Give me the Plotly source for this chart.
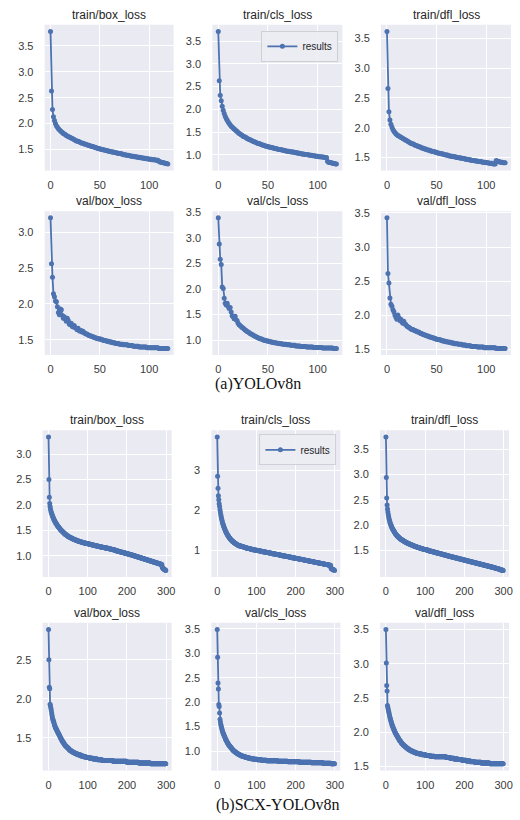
import plotly.graph_objects as go

# ---------------- data ----------------
epochs_a = list(range(120))
epochs_b = list(range(300))

train_box_a = [
    3.78, 2.63, 2.27, 2.13, 2.06, 2.00, 1.96, 1.93, 1.90, 1.88,
    1.86, 1.84, 1.83, 1.81, 1.80, 1.79, 1.77, 1.76, 1.75, 1.74,
    1.73, 1.72, 1.71, 1.70, 1.69, 1.68, 1.67, 1.66, 1.66, 1.65,
    1.64, 1.63, 1.62, 1.62, 1.61, 1.60, 1.60, 1.59, 1.58, 1.58,
    1.57, 1.56, 1.56, 1.55, 1.55, 1.54, 1.54, 1.53, 1.52, 1.52,
    1.51, 1.51, 1.50, 1.50, 1.49, 1.49, 1.48, 1.48, 1.47, 1.47,
    1.46, 1.46, 1.45, 1.45, 1.45, 1.44, 1.44, 1.43, 1.43, 1.42,
    1.42, 1.42, 1.41, 1.41, 1.40, 1.40, 1.40, 1.39, 1.39, 1.39,
    1.38, 1.38, 1.37, 1.37, 1.37, 1.36, 1.36, 1.36, 1.35, 1.35,
    1.35, 1.34, 1.34, 1.34, 1.33, 1.33, 1.33, 1.32, 1.32, 1.32,
    1.31, 1.31, 1.31, 1.30, 1.30, 1.30, 1.30, 1.29, 1.29, 1.29,
    1.27, 1.26, 1.26, 1.25, 1.25, 1.24, 1.24, 1.23, 1.23, 1.22,
]
train_cls_a = [
    3.71, 2.63, 2.31, 2.19, 2.07, 1.98, 1.91, 1.85, 1.80, 1.76,
    1.72, 1.69, 1.66, 1.63, 1.61, 1.59, 1.57, 1.55, 1.53, 1.51,
    1.49, 1.47, 1.46, 1.44, 1.43, 1.41, 1.40, 1.39, 1.38, 1.36,
    1.35, 1.34, 1.33, 1.32, 1.31, 1.30, 1.29, 1.28, 1.27, 1.26,
    1.25, 1.25, 1.24, 1.23, 1.22, 1.21, 1.21, 1.20, 1.19, 1.19,
    1.18, 1.17, 1.17, 1.16, 1.16, 1.15, 1.15, 1.14, 1.14, 1.13,
    1.13, 1.12, 1.12, 1.11, 1.11, 1.10, 1.10, 1.09, 1.09, 1.08,
    1.08, 1.08, 1.07, 1.07, 1.06, 1.06, 1.06, 1.05, 1.05, 1.04,
    1.04, 1.04, 1.03, 1.03, 1.02, 1.02, 1.02, 1.01, 1.01, 1.01,
    1.00, 1.00, 0.99, 0.99, 0.99, 0.98, 0.98, 0.98, 0.97, 0.97,
    0.97, 0.96, 0.96, 0.96, 0.95, 0.95, 0.95, 0.94, 0.94, 0.94,
    0.86, 0.84, 0.83, 0.83, 0.82, 0.82, 0.81, 0.81, 0.80, 0.80,
]
train_dfl_a = [
    3.62, 2.66, 2.27, 2.13, 2.06, 2.01, 1.97, 1.94, 1.92, 1.90,
    1.88, 1.87, 1.86, 1.85, 1.84, 1.83, 1.82, 1.81, 1.80, 1.79,
    1.78, 1.77, 1.76, 1.75, 1.74, 1.73, 1.73, 1.72, 1.71, 1.70,
    1.70, 1.69, 1.68, 1.68, 1.67, 1.66, 1.66, 1.65, 1.64, 1.64,
    1.63, 1.63, 1.62, 1.62, 1.61, 1.61, 1.60, 1.60, 1.59, 1.59,
    1.58, 1.58, 1.57, 1.57, 1.56, 1.56, 1.56, 1.55, 1.55, 1.54,
    1.54, 1.54, 1.53, 1.53, 1.52, 1.52, 1.52, 1.51, 1.51, 1.51,
    1.50, 1.50, 1.50, 1.49, 1.49, 1.49, 1.48, 1.48, 1.48, 1.47,
    1.47, 1.47, 1.46, 1.46, 1.46, 1.45, 1.45, 1.45, 1.45, 1.44,
    1.44, 1.44, 1.43, 1.43, 1.43, 1.43, 1.42, 1.42, 1.42, 1.42,
    1.41, 1.41, 1.41, 1.40, 1.40, 1.40, 1.40, 1.39, 1.39, 1.39,
    1.45, 1.44, 1.43, 1.43, 1.42, 1.42, 1.42, 1.41, 1.41, 1.41,
]
val_box_a = [
    3.20, 2.56, 2.37, 2.14, 2.10, 2.04, 2.03, 1.96, 1.88, 1.85,
    1.93, 1.92, 1.84, 1.80, 1.82, 1.79, 1.76, 1.80, 1.77, 1.72,
    1.71, 1.73, 1.69, 1.68, 1.70, 1.67, 1.66, 1.64, 1.66, 1.63,
    1.62, 1.63, 1.61, 1.62, 1.60, 1.59, 1.58, 1.58, 1.57, 1.56,
    1.56, 1.55, 1.55, 1.54, 1.54, 1.53, 1.53, 1.52, 1.52, 1.51,
    1.51, 1.51, 1.50, 1.50, 1.49, 1.49, 1.49, 1.48, 1.48, 1.48,
    1.47, 1.47, 1.47, 1.46, 1.46, 1.46, 1.45, 1.45, 1.45, 1.45,
    1.44, 1.44, 1.44, 1.44, 1.43, 1.43, 1.43, 1.43, 1.43, 1.42,
    1.42, 1.42, 1.42, 1.42, 1.41, 1.41, 1.41, 1.41, 1.41, 1.41,
    1.40, 1.40, 1.40, 1.40, 1.40, 1.40, 1.40, 1.40, 1.39, 1.39,
    1.39, 1.39, 1.39, 1.39, 1.39, 1.39, 1.39, 1.39, 1.39, 1.39,
    1.38, 1.38, 1.38, 1.38, 1.38, 1.38, 1.38, 1.38, 1.38, 1.38,
]
val_cls_a = [
    3.39, 2.88, 2.58, 2.48, 2.04, 2.01, 1.82, 1.72, 1.69, 1.72,
    1.66, 1.62, 1.64, 1.55, 1.48, 1.46, 1.42, 1.47, 1.40, 1.38,
    1.33, 1.30, 1.29, 1.27, 1.25, 1.24, 1.22, 1.20, 1.19, 1.17,
    1.16, 1.15, 1.13, 1.12, 1.11, 1.10, 1.09, 1.08, 1.07, 1.06,
    1.05, 1.04, 1.03, 1.03, 1.02, 1.01, 1.00, 1.00, 0.99, 0.99,
    0.98, 0.98, 0.97, 0.97, 0.96, 0.96, 0.95, 0.95, 0.95, 0.94,
    0.94, 0.94, 0.93, 0.93, 0.93, 0.92, 0.92, 0.92, 0.92, 0.91,
    0.91, 0.91, 0.91, 0.90, 0.90, 0.90, 0.90, 0.90, 0.89, 0.89,
    0.89, 0.89, 0.89, 0.88, 0.88, 0.88, 0.88, 0.88, 0.88, 0.87,
    0.87, 0.87, 0.87, 0.87, 0.87, 0.87, 0.86, 0.86, 0.86, 0.86,
    0.86, 0.86, 0.86, 0.86, 0.86, 0.85, 0.85, 0.85, 0.85, 0.85,
    0.85, 0.85, 0.85, 0.85, 0.85, 0.85, 0.84, 0.84, 0.84, 0.84,
]
val_dfl_a = [
    3.43, 2.61, 2.47, 2.25, 2.16, 2.13, 2.08, 2.05, 2.00, 1.97,
    1.94, 2.00, 1.96, 1.92, 1.94, 1.90, 1.88, 1.91, 1.87, 1.86,
    1.84, 1.83, 1.82, 1.81, 1.80, 1.79, 1.79, 1.78, 1.77, 1.77,
    1.76, 1.75, 1.75, 1.74, 1.73, 1.73, 1.72, 1.71, 1.71, 1.70,
    1.70, 1.69, 1.69, 1.68, 1.68, 1.67, 1.67, 1.66, 1.66, 1.65,
    1.65, 1.64, 1.64, 1.64, 1.63, 1.63, 1.62, 1.62, 1.62, 1.61,
    1.61, 1.61, 1.60, 1.60, 1.60, 1.59, 1.59, 1.59, 1.58, 1.58,
    1.58, 1.58, 1.57, 1.57, 1.57, 1.57, 1.56, 1.56, 1.56, 1.56,
    1.55, 1.55, 1.55, 1.55, 1.55, 1.54, 1.54, 1.54, 1.54, 1.54,
    1.54, 1.53, 1.53, 1.53, 1.53, 1.53, 1.53, 1.53, 1.52, 1.52,
    1.52, 1.52, 1.52, 1.52, 1.52, 1.52, 1.52, 1.52, 1.52, 1.52,
    1.51, 1.51, 1.51, 1.51, 1.51, 1.51, 1.51, 1.51, 1.51, 1.51,
]

train_box_b = [
    3.34, 2.50, 2.15, 2.03, 1.97, 1.92, 1.88, 1.85, 1.83, 1.81,
    1.79, 1.77, 1.75, 1.73, 1.71, 1.70, 1.68, 1.67, 1.65, 1.64,
    1.63, 1.62, 1.60, 1.59, 1.58, 1.57, 1.56, 1.55, 1.54, 1.53,
    1.52, 1.51, 1.50, 1.49, 1.49, 1.48, 1.47, 1.46, 1.46, 1.45,
    1.44, 1.44, 1.43, 1.42, 1.42, 1.41, 1.41, 1.40, 1.40, 1.39,
    1.38, 1.38, 1.37, 1.37, 1.37, 1.36, 1.36, 1.35, 1.35, 1.35,
    1.34, 1.34, 1.33, 1.33, 1.33, 1.32, 1.32, 1.32, 1.31, 1.31,
    1.31, 1.30, 1.30, 1.30, 1.29, 1.29, 1.29, 1.29, 1.28, 1.28,
    1.28, 1.28, 1.27, 1.27, 1.27, 1.27, 1.26, 1.26, 1.26, 1.26,
    1.25, 1.25, 1.25, 1.25, 1.25, 1.24, 1.24, 1.24, 1.24, 1.24,
    1.24, 1.23, 1.23, 1.23, 1.23, 1.23, 1.22, 1.22, 1.22, 1.22,
    1.22, 1.21, 1.21, 1.21, 1.21, 1.21, 1.20, 1.20, 1.20, 1.20,
    1.20, 1.19, 1.19, 1.19, 1.19, 1.19, 1.19, 1.18, 1.18, 1.18,
    1.18, 1.18, 1.17, 1.17, 1.17, 1.17, 1.17, 1.17, 1.16, 1.16,
    1.16, 1.16, 1.16, 1.16, 1.15, 1.15, 1.15, 1.15, 1.15, 1.15,
    1.15, 1.14, 1.14, 1.14, 1.14, 1.14, 1.13, 1.13, 1.13, 1.13,
    1.13, 1.12, 1.12, 1.12, 1.12, 1.12, 1.11, 1.11, 1.11, 1.11,
    1.11, 1.10, 1.10, 1.10, 1.10, 1.10, 1.09, 1.09, 1.09, 1.09,
    1.09, 1.08, 1.08, 1.08, 1.08, 1.07, 1.07, 1.07, 1.07, 1.07,
    1.06, 1.06, 1.06, 1.06, 1.06, 1.05, 1.05, 1.05, 1.05, 1.04,
    1.04, 1.04, 1.04, 1.04, 1.03, 1.03, 1.03, 1.03, 1.02, 1.02,
    1.02, 1.02, 1.02, 1.01, 1.01, 1.01, 1.01, 1.00, 1.00, 1.00,
    1.00, 0.99, 0.99, 0.99, 0.99, 0.98, 0.98, 0.98, 0.98, 0.97,
    0.97, 0.97, 0.97, 0.96, 0.96, 0.96, 0.96, 0.95, 0.95, 0.95,
    0.95, 0.94, 0.94, 0.94, 0.94, 0.93, 0.93, 0.93, 0.93, 0.92,
    0.92, 0.92, 0.92, 0.91, 0.91, 0.91, 0.91, 0.90, 0.90, 0.90,
    0.90, 0.89, 0.89, 0.89, 0.89, 0.88, 0.88, 0.88, 0.88, 0.87,
    0.87, 0.87, 0.87, 0.86, 0.86, 0.86, 0.86, 0.85, 0.85, 0.85,
    0.85, 0.84, 0.84, 0.84, 0.84, 0.83, 0.83, 0.83, 0.83, 0.82,
    0.77, 0.76, 0.75, 0.75, 0.74, 0.73, 0.73, 0.72, 0.72, 0.71,
]
train_cls_b = [
    3.83, 2.85, 2.55, 2.36, 2.26, 2.16, 2.09, 2.01, 1.95, 1.89,
    1.84, 1.79, 1.75, 1.71, 1.67, 1.64, 1.61, 1.58, 1.55, 1.53,
    1.50, 1.48, 1.46, 1.44, 1.42, 1.40, 1.38, 1.37, 1.35, 1.34,
    1.32, 1.31, 1.30, 1.28, 1.27, 1.26, 1.25, 1.24, 1.23, 1.22,
    1.21, 1.20, 1.20, 1.19, 1.18, 1.17, 1.17, 1.16, 1.15, 1.15,
    1.14, 1.13, 1.13, 1.12, 1.12, 1.11, 1.11, 1.11, 1.10, 1.10,
    1.10, 1.10, 1.09, 1.09, 1.09, 1.08, 1.08, 1.08, 1.07, 1.07,
    1.07, 1.06, 1.06, 1.06, 1.05, 1.05, 1.05, 1.05, 1.04, 1.04,
    1.04, 1.04, 1.03, 1.03, 1.03, 1.03, 1.02, 1.02, 1.02, 1.02,
    1.01, 1.01, 1.01, 1.01, 1.01, 1.00, 1.00, 1.00, 1.00, 1.00,
    0.99, 0.99, 0.99, 0.99, 0.99, 0.98, 0.98, 0.98, 0.98, 0.98,
    0.97, 0.97, 0.97, 0.97, 0.97, 0.96, 0.96, 0.96, 0.96, 0.96,
    0.95, 0.95, 0.95, 0.95, 0.95, 0.94, 0.94, 0.94, 0.94, 0.94,
    0.93, 0.93, 0.93, 0.93, 0.93, 0.92, 0.92, 0.92, 0.92, 0.92,
    0.91, 0.91, 0.91, 0.91, 0.91, 0.90, 0.90, 0.90, 0.90, 0.90,
    0.89, 0.89, 0.89, 0.89, 0.89, 0.88, 0.88, 0.88, 0.88, 0.88,
    0.87, 0.87, 0.87, 0.87, 0.87, 0.86, 0.86, 0.86, 0.86, 0.86,
    0.85, 0.85, 0.85, 0.85, 0.85, 0.84, 0.84, 0.84, 0.84, 0.84,
    0.83, 0.83, 0.83, 0.83, 0.83, 0.82, 0.82, 0.82, 0.82, 0.82,
    0.81, 0.81, 0.81, 0.81, 0.81, 0.80, 0.80, 0.80, 0.80, 0.80,
    0.79, 0.79, 0.79, 0.79, 0.79, 0.78, 0.78, 0.78, 0.78, 0.78,
    0.77, 0.77, 0.77, 0.77, 0.77, 0.76, 0.76, 0.76, 0.76, 0.76,
    0.75, 0.75, 0.75, 0.75, 0.75, 0.74, 0.74, 0.74, 0.74, 0.74,
    0.73, 0.73, 0.73, 0.73, 0.73, 0.72, 0.72, 0.72, 0.72, 0.72,
    0.71, 0.71, 0.71, 0.71, 0.71, 0.70, 0.70, 0.70, 0.70, 0.70,
    0.69, 0.69, 0.69, 0.69, 0.69, 0.68, 0.68, 0.68, 0.68, 0.68,
    0.67, 0.67, 0.67, 0.67, 0.67, 0.66, 0.66, 0.66, 0.66, 0.66,
    0.65, 0.65, 0.65, 0.65, 0.65, 0.64, 0.64, 0.64, 0.64, 0.64,
    0.63, 0.63, 0.63, 0.63, 0.63, 0.62, 0.62, 0.62, 0.62, 0.62,
    0.55, 0.54, 0.53, 0.52, 0.52, 0.51, 0.51, 0.50, 0.50, 0.49,
]
train_dfl_b = [
    3.74, 2.94, 2.54, 2.40, 2.32, 2.26, 2.21, 2.17, 2.13, 2.10,
    2.07, 2.04, 2.02, 2.00, 1.98, 1.96, 1.94, 1.93, 1.91, 1.90,
    1.89, 1.87, 1.86, 1.85, 1.84, 1.83, 1.82, 1.81, 1.80, 1.79,
    1.78, 1.78, 1.77, 1.76, 1.75, 1.75, 1.74, 1.73, 1.73, 1.72,
    1.72, 1.71, 1.71, 1.70, 1.70, 1.69, 1.69, 1.68, 1.68, 1.67,
    1.67, 1.66, 1.66, 1.66, 1.65, 1.65, 1.64, 1.64, 1.64, 1.63,
    1.63, 1.63, 1.62, 1.62, 1.62, 1.61, 1.61, 1.61, 1.60, 1.60,
    1.60, 1.59, 1.59, 1.59, 1.58, 1.58, 1.58, 1.58, 1.57, 1.57,
    1.57, 1.56, 1.56, 1.56, 1.56, 1.55, 1.55, 1.55, 1.55, 1.54,
    1.54, 1.54, 1.54, 1.53, 1.53, 1.53, 1.53, 1.52, 1.52, 1.52,
    1.52, 1.52, 1.52, 1.51, 1.51, 1.51, 1.51, 1.51, 1.50, 1.50,
    1.50, 1.50, 1.50, 1.49, 1.49, 1.49, 1.49, 1.49, 1.48, 1.48,
    1.48, 1.48, 1.48, 1.47, 1.47, 1.47, 1.47, 1.46, 1.46, 1.46,
    1.46, 1.46, 1.45, 1.45, 1.45, 1.45, 1.45, 1.44, 1.44, 1.44,
    1.44, 1.44, 1.43, 1.43, 1.43, 1.43, 1.42, 1.42, 1.42, 1.42,
    1.42, 1.41, 1.41, 1.41, 1.41, 1.41, 1.40, 1.40, 1.40, 1.40,
    1.39, 1.39, 1.39, 1.39, 1.39, 1.38, 1.38, 1.38, 1.38, 1.38,
    1.37, 1.37, 1.37, 1.37, 1.37, 1.36, 1.36, 1.36, 1.36, 1.36,
    1.35, 1.35, 1.35, 1.35, 1.35, 1.34, 1.34, 1.34, 1.34, 1.34,
    1.33, 1.33, 1.33, 1.33, 1.33, 1.32, 1.32, 1.32, 1.32, 1.32,
    1.31, 1.31, 1.31, 1.31, 1.31, 1.30, 1.30, 1.30, 1.30, 1.30,
    1.29, 1.29, 1.29, 1.29, 1.29, 1.28, 1.28, 1.28, 1.28, 1.28,
    1.27, 1.27, 1.27, 1.27, 1.27, 1.26, 1.26, 1.26, 1.26, 1.26,
    1.25, 1.25, 1.25, 1.25, 1.25, 1.24, 1.24, 1.24, 1.24, 1.24,
    1.23, 1.23, 1.23, 1.23, 1.23, 1.22, 1.22, 1.22, 1.22, 1.22,
    1.21, 1.21, 1.21, 1.21, 1.21, 1.20, 1.20, 1.20, 1.20, 1.20,
    1.19, 1.19, 1.19, 1.19, 1.19, 1.18, 1.18, 1.18, 1.18, 1.18,
    1.17, 1.17, 1.17, 1.17, 1.17, 1.16, 1.16, 1.16, 1.16, 1.16,
    1.15, 1.15, 1.15, 1.15, 1.15, 1.15, 1.14, 1.14, 1.14, 1.14,
    1.13, 1.13, 1.13, 1.12, 1.12, 1.12, 1.12, 1.12, 1.11, 1.11,
]
val_box_b = [
    2.89, 2.50, 2.15, 2.13, 1.93, 1.91, 1.88, 1.85, 1.82, 1.79,
    1.76, 1.74, 1.72, 1.71, 1.69, 1.67, 1.66, 1.64, 1.63, 1.62,
    1.61, 1.60, 1.59, 1.58, 1.57, 1.56, 1.55, 1.54, 1.53, 1.52,
    1.51, 1.50, 1.49, 1.48, 1.47, 1.46, 1.45, 1.45, 1.44, 1.43,
    1.42, 1.42, 1.41, 1.40, 1.40, 1.39, 1.39, 1.38, 1.38, 1.37,
    1.37, 1.36, 1.36, 1.35, 1.35, 1.34, 1.34, 1.34, 1.33, 1.33,
    1.33, 1.32, 1.32, 1.32, 1.31, 1.31, 1.31, 1.31, 1.30, 1.30,
    1.30, 1.30, 1.29, 1.29, 1.29, 1.29, 1.29, 1.28, 1.28, 1.28,
    1.28, 1.28, 1.28, 1.27, 1.27, 1.27, 1.27, 1.27, 1.27, 1.26,
    1.26, 1.26, 1.26, 1.26, 1.26, 1.26, 1.25, 1.25, 1.25, 1.25,
    1.25, 1.25, 1.25, 1.25, 1.25, 1.24, 1.24, 1.24, 1.24, 1.24,
    1.24, 1.24, 1.24, 1.24, 1.23, 1.23, 1.23, 1.23, 1.23, 1.23,
    1.23, 1.23, 1.23, 1.23, 1.23, 1.22, 1.22, 1.22, 1.22, 1.22,
    1.22, 1.22, 1.22, 1.22, 1.22, 1.22, 1.22, 1.21, 1.21, 1.21,
    1.21, 1.21, 1.21, 1.21, 1.21, 1.21, 1.21, 1.21, 1.21, 1.21,
    1.21, 1.21, 1.21, 1.21, 1.21, 1.21, 1.21, 1.21, 1.21, 1.21,
    1.21, 1.21, 1.21, 1.21, 1.21, 1.20, 1.20, 1.20, 1.20, 1.20,
    1.20, 1.20, 1.20, 1.20, 1.20, 1.20, 1.20, 1.20, 1.20, 1.20,
    1.20, 1.20, 1.20, 1.20, 1.20, 1.20, 1.20, 1.20, 1.20, 1.20,
    1.20, 1.20, 1.20, 1.20, 1.20, 1.20, 1.20, 1.20, 1.20, 1.20,
    1.19, 1.19, 1.19, 1.19, 1.19, 1.19, 1.19, 1.19, 1.19, 1.19,
    1.19, 1.19, 1.19, 1.19, 1.19, 1.19, 1.19, 1.19, 1.19, 1.19,
    1.19, 1.19, 1.19, 1.19, 1.19, 1.19, 1.19, 1.19, 1.19, 1.19,
    1.18, 1.18, 1.18, 1.18, 1.18, 1.18, 1.18, 1.18, 1.18, 1.18,
    1.18, 1.18, 1.18, 1.18, 1.18, 1.18, 1.18, 1.18, 1.18, 1.18,
    1.18, 1.18, 1.18, 1.18, 1.18, 1.18, 1.18, 1.18, 1.18, 1.18,
    1.17, 1.17, 1.17, 1.17, 1.17, 1.17, 1.17, 1.17, 1.17, 1.17,
    1.17, 1.17, 1.17, 1.17, 1.17, 1.17, 1.17, 1.17, 1.17, 1.17,
    1.17, 1.17, 1.17, 1.17, 1.17, 1.17, 1.17, 1.17, 1.17, 1.17,
    1.17, 1.17, 1.17, 1.17, 1.17, 1.17, 1.17, 1.17, 1.17, 1.17,
]
val_cls_b = [
    3.49, 2.92, 2.39, 2.27, 1.95, 1.91, 1.78, 1.65, 1.60, 1.55,
    1.51, 1.48, 1.45, 1.42, 1.39, 1.37, 1.35, 1.33, 1.31, 1.29,
    1.27, 1.25, 1.23, 1.22, 1.20, 1.19, 1.17, 1.16, 1.15, 1.13,
    1.12, 1.11, 1.10, 1.09, 1.08, 1.07, 1.06, 1.05, 1.04, 1.03,
    1.02, 1.01, 1.01, 1.00, 0.99, 0.99, 0.98, 0.97, 0.97, 0.96,
    0.96, 0.95, 0.95, 0.94, 0.94, 0.93, 0.93, 0.92, 0.92, 0.92,
    0.91, 0.91, 0.90, 0.90, 0.90, 0.89, 0.89, 0.89, 0.88, 0.88,
    0.88, 0.88, 0.87, 0.87, 0.87, 0.87, 0.86, 0.86, 0.86, 0.86,
    0.86, 0.85, 0.85, 0.85, 0.85, 0.85, 0.84, 0.84, 0.84, 0.84,
    0.84, 0.84, 0.84, 0.83, 0.83, 0.83, 0.83, 0.83, 0.83, 0.83,
    0.83, 0.83, 0.82, 0.82, 0.82, 0.82, 0.82, 0.82, 0.82, 0.82,
    0.82, 0.82, 0.82, 0.81, 0.81, 0.81, 0.81, 0.81, 0.81, 0.81,
    0.81, 0.81, 0.81, 0.81, 0.81, 0.81, 0.80, 0.80, 0.80, 0.80,
    0.80, 0.80, 0.80, 0.80, 0.80, 0.80, 0.80, 0.80, 0.80, 0.80,
    0.80, 0.80, 0.80, 0.80, 0.80, 0.80, 0.80, 0.80, 0.80, 0.80,
    0.80, 0.80, 0.80, 0.80, 0.80, 0.79, 0.79, 0.79, 0.79, 0.79,
    0.79, 0.79, 0.79, 0.79, 0.79, 0.79, 0.79, 0.79, 0.79, 0.79,
    0.79, 0.79, 0.79, 0.79, 0.79, 0.79, 0.79, 0.79, 0.79, 0.79,
    0.78, 0.78, 0.78, 0.78, 0.78, 0.78, 0.78, 0.78, 0.78, 0.78,
    0.78, 0.78, 0.78, 0.78, 0.78, 0.78, 0.78, 0.78, 0.78, 0.78,
    0.78, 0.78, 0.78, 0.78, 0.78, 0.78, 0.78, 0.78, 0.78, 0.78,
    0.77, 0.77, 0.77, 0.77, 0.77, 0.77, 0.77, 0.77, 0.77, 0.77,
    0.77, 0.77, 0.77, 0.77, 0.77, 0.77, 0.77, 0.77, 0.77, 0.77,
    0.77, 0.77, 0.77, 0.77, 0.77, 0.77, 0.77, 0.77, 0.77, 0.77,
    0.76, 0.76, 0.76, 0.76, 0.76, 0.76, 0.76, 0.76, 0.76, 0.76,
    0.76, 0.76, 0.76, 0.76, 0.76, 0.76, 0.76, 0.76, 0.76, 0.76,
    0.76, 0.76, 0.76, 0.76, 0.76, 0.76, 0.76, 0.76, 0.76, 0.76,
    0.75, 0.75, 0.75, 0.75, 0.75, 0.75, 0.75, 0.75, 0.75, 0.75,
    0.75, 0.75, 0.75, 0.75, 0.75, 0.75, 0.75, 0.75, 0.75, 0.75,
    0.74, 0.74, 0.74, 0.74, 0.74, 0.74, 0.74, 0.74, 0.74, 0.74,
]
val_dfl_b = [
    3.50, 3.01, 2.68, 2.60, 2.39, 2.36, 2.33, 2.30, 2.28, 2.25,
    2.22, 2.20, 2.18, 2.16, 2.14, 2.12, 2.10, 2.09, 2.07, 2.06,
    2.04, 2.03, 2.02, 2.00, 1.99, 1.98, 1.97, 1.96, 1.95, 1.94,
    1.93, 1.92, 1.91, 1.90, 1.89, 1.88, 1.87, 1.87, 1.86, 1.85,
    1.84, 1.84, 1.83, 1.82, 1.82, 1.81, 1.81, 1.80, 1.80, 1.79,
    1.79, 1.78, 1.78, 1.77, 1.77, 1.76, 1.76, 1.75, 1.75, 1.75,
    1.74, 1.74, 1.74, 1.73, 1.73, 1.73, 1.72, 1.72, 1.72, 1.72,
    1.71, 1.71, 1.71, 1.71, 1.70, 1.70, 1.70, 1.70, 1.70, 1.69,
    1.69, 1.69, 1.69, 1.69, 1.69, 1.68, 1.68, 1.68, 1.68, 1.68,
    1.68, 1.68, 1.67, 1.67, 1.67, 1.67, 1.67, 1.67, 1.67, 1.67,
    1.67, 1.67, 1.66, 1.66, 1.66, 1.66, 1.66, 1.66, 1.66, 1.66,
    1.66, 1.66, 1.66, 1.65, 1.65, 1.65, 1.65, 1.65, 1.65, 1.65,
    1.65, 1.65, 1.65, 1.65, 1.64, 1.64, 1.64, 1.64, 1.64, 1.64,
    1.64, 1.64, 1.64, 1.64, 1.64, 1.64, 1.64, 1.64, 1.64, 1.64,
    1.64, 1.64, 1.64, 1.64, 1.64, 1.64, 1.64, 1.64, 1.64, 1.64,
    1.64, 1.64, 1.64, 1.64, 1.63, 1.63, 1.63, 1.63, 1.63, 1.63,
    1.63, 1.63, 1.63, 1.63, 1.62, 1.62, 1.62, 1.62, 1.62, 1.62,
    1.62, 1.62, 1.62, 1.62, 1.61, 1.61, 1.61, 1.61, 1.61, 1.61,
    1.61, 1.61, 1.61, 1.61, 1.60, 1.60, 1.60, 1.60, 1.60, 1.60,
    1.60, 1.60, 1.60, 1.60, 1.59, 1.59, 1.59, 1.59, 1.59, 1.59,
    1.59, 1.59, 1.59, 1.59, 1.59, 1.58, 1.58, 1.58, 1.58, 1.58,
    1.58, 1.58, 1.58, 1.58, 1.58, 1.58, 1.57, 1.57, 1.57, 1.57,
    1.57, 1.57, 1.57, 1.57, 1.57, 1.57, 1.57, 1.56, 1.56, 1.56,
    1.56, 1.56, 1.56, 1.56, 1.56, 1.56, 1.56, 1.56, 1.56, 1.56,
    1.56, 1.56, 1.56, 1.55, 1.55, 1.55, 1.55, 1.55, 1.55, 1.55,
    1.55, 1.55, 1.55, 1.55, 1.55, 1.55, 1.55, 1.55, 1.55, 1.55,
    1.55, 1.55, 1.55, 1.55, 1.55, 1.54, 1.54, 1.54, 1.54, 1.54,
    1.54, 1.54, 1.54, 1.54, 1.54, 1.54, 1.54, 1.54, 1.54, 1.54,
    1.54, 1.54, 1.54, 1.54, 1.54, 1.54, 1.54, 1.54, 1.54, 1.54,
    1.54, 1.54, 1.54, 1.54, 1.54, 1.54, 1.54, 1.54, 1.54, 1.54,
]

titles = ["train/box_loss", "train/cls_loss", "train/dfl_loss",
          "val/box_loss", "val/cls_loss", "val/dfl_loss"]
captions = ["(a)YOLOv8n", "(b)SCX-YOLOv8n"]
series_name = "results"

xticks_a = [0, 50, 100]
xticks_b = [0, 100, 200, 300]
yticks = [
    ["1.5", "2.0", "2.5", "3.0", "3.5"],
    ["1.0", "1.5", "2.0", "2.5", "3.0", "3.5"],
    ["1.5", "2.0", "2.5", "3.0", "3.5"],
    ["1.5", "2.0", "2.5", "3.0"],
    ["1.0", "1.5", "2.0", "2.5", "3.0", "3.5"],
    ["1.5", "2.0", "2.5", "3.0", "3.5"],
    ["1.0", "1.5", "2.0", "2.5", "3.0"],
    ["1", "2", "3"],
    ["1.5", "2.0", "2.5", "3.0", "3.5"],
    ["1.5", "2.0", "2.5"],
    ["1.0", "1.5", "2.0", "2.5", "3.0", "3.5"],
    ["1.5", "2.0", "2.5", "3.0", "3.5"],
]

# ---------------- layout geometry (pixels) ----------------
W, H = 520, 820
cols_a = [(45, 175), (214, 345), (384, 515)]
cols_b = [(43, 173), (213, 343), (383, 513)]
rows_px = [(20, 167), (208, 353), (429, 577), (623, 772)]

BLUE = "#4C72B0"
FONT = "Liberation Sans, Arial, sans-serif"
TICKC = "#3a3a3a"

panels = [
    (epochs_a, train_box_a), (epochs_a, train_cls_a), (epochs_a, train_dfl_a),
    (epochs_a, val_box_a), (epochs_a, val_cls_a), (epochs_a, val_dfl_a),
    (epochs_b, train_box_b), (epochs_b, train_cls_b), (epochs_b, train_dfl_b),
    (epochs_b, val_box_b), (epochs_b, val_cls_b), (epochs_b, val_dfl_b),
]

fig = go.Figure()
annotations = []
layout = {}

for i, (xs, ys) in enumerate(panels):
    r, c = divmod(i, 3)
    cols = cols_a if r < 2 else cols_b
    x0, x1 = cols[c]
    top, bot = rows_px[r]
    n = i + 1
    xa = "xaxis" if n == 1 else f"xaxis{n}"
    ya = "yaxis" if n == 1 else f"yaxis{n}"
    xref = "x" if n == 1 else f"x{n}"
    yref = "y" if n == 1 else f"y{n}"

    xmin, xmax = min(xs), max(xs)
    ymin, ymax = min(ys), max(ys)
    dx, dy = (xmax - xmin) * 0.05, (ymax - ymin) * 0.05
    xt = xticks_a if r < 2 else xticks_b
    yt = yticks[i]

    layout[xa] = dict(
        domain=[x0 / W, x1 / W], anchor=yref,
        range=[xmin - dx, xmax + dx],
        tickvals=xt, ticktext=[str(v) for v in xt],
        showgrid=True, gridcolor="white", gridwidth=1.3,
        zeroline=False, showline=False,
        ticks="outside", ticklen=4, tickcolor="rgba(0,0,0,0)",
        tickfont=dict(family=FONT, size=11, color=TICKC),
    )
    layout[ya] = dict(
        domain=[1 - bot / H, 1 - top / H], anchor=xref,
        range=[ymin - dy, ymax + dy],
        tickvals=[float(t) for t in yt], ticktext=yt,
        showgrid=True, gridcolor="white", gridwidth=1.3,
        zeroline=False, showline=False,
        ticks="outside", ticklen=8, tickcolor="rgba(0,0,0,0)",
        tickfont=dict(family=FONT, size=11, color=TICKC),
    )
    fig.add_shape(type="rect", xref="paper", yref="paper",
                  x0=x0 / W, x1=x1 / W, y0=1 - bot / H, y1=1 - top / H,
                  fillcolor="#EAEAF2", line=dict(width=0), layer="below")

    show_leg = (c == 1 and r in (0, 2))
    fig.add_trace(go.Scatter(
        x=xs, y=ys, xaxis=xref, yaxis=yref,
        mode="lines+markers", name=series_name,
        line=dict(color=BLUE, width=1.8),
        marker=dict(color=BLUE, size=5),
        showlegend=show_leg,
        legend="legend" if r == 0 else "legend2",
    ))

    annotations.append(dict(
        text=titles[i % 6], xref="paper", yref="paper",
        x=(x0 + x1) / 2 / W, y=1 - top / H, xanchor="center", yanchor="bottom",
        yshift=1, showarrow=False,
        font=dict(family=FONT, size=12, color="#262626"),
    ))

annotations.append(dict(text=captions[0], xref="paper", yref="paper",
                        x=260 / W, y=1 - 382 / H, xanchor="center", yanchor="middle",
                        showarrow=False,
                        font=dict(family="Liberation Serif, Times New Roman, serif", size=16, color="#111")))
annotations.append(dict(text=captions[1], xref="paper", yref="paper",
                        x=280 / W, y=1 - 807 / H, xanchor="center", yanchor="middle",
                        showarrow=False,
                        font=dict(family="Liberation Serif, Times New Roman, serif", size=16, color="#111")))

leg_common = dict(
    xanchor="right", yanchor="top",
    bgcolor="rgba(236,236,243,0.9)", bordercolor="#cfcfd6", borderwidth=1,
    font=dict(family=FONT, size=10, color="#262626"),
    itemwidth=30, tracegroupgap=0,
)
layout["legend"] = dict(x=341 / W, y=1 - 26 / H, **leg_common)
layout["legend2"] = dict(x=339 / W, y=1 - 433 / H, **leg_common)

fig.update_layout(
    width=W, height=H,
    margin=dict(l=0, r=0, t=0, b=0),
    paper_bgcolor="white", plot_bgcolor="rgba(0,0,0,0)",
    annotations=annotations,
    **layout,
)

fig.write_html("out.html",
               config={"displayModeBar": False},
               post_script="document.body.style.margin='0';document.body.style.overflow='hidden';")
